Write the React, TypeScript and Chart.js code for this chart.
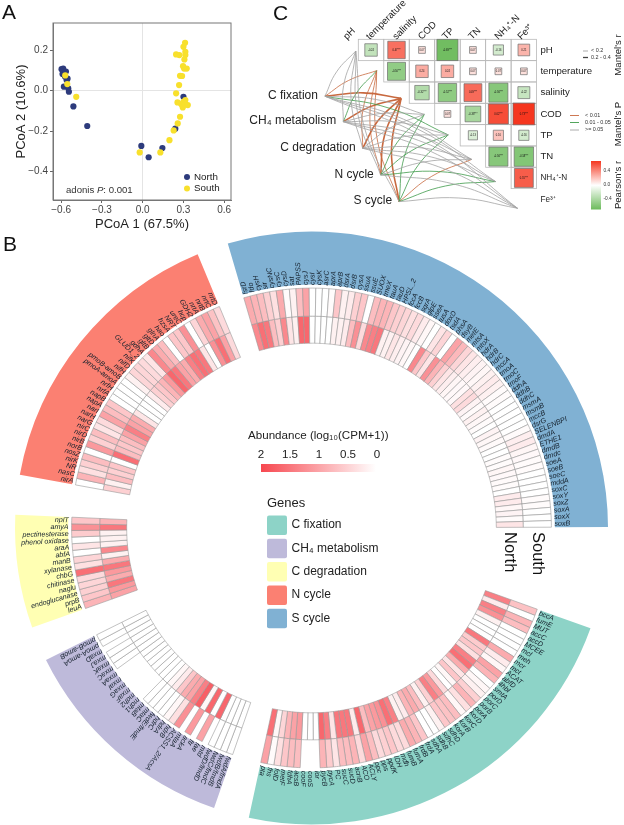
import React, { useEffect, useRef } from "react";
import { Chart, registerables } from "chart.js";

Chart.register(...registerables);
Chart.defaults.font.family = "'Liberation Sans', Arial, sans-serif";

// ---------- Panel A ----------
const northPoints = [[-0.597,0.107],[-0.585,0.11],[-0.59,0.083],[-0.572,0.07],[-0.565,0.095],[-0.56,0.053],[-0.553,0.06],[-0.58,0.02],[-0.548,0.012],[-0.543,-0.005],[-0.51,-0.078],[-0.408,-0.175],[-0.01,-0.274],[0.044,-0.33],[0.145,-0.284],[0.3,-0.03],[0.24,-0.188]];
const southPoints = [[-0.57,0.076],[-0.555,0.033],[-0.489,-0.03],[-0.022,-0.306],[0.13,-0.306],[0.197,-0.245],[0.228,-0.197],[0.258,-0.162],[0.275,-0.129],[0.312,0.238],[0.3,0.218],[0.314,0.193],[0.246,0.18],[0.27,0.177],[0.314,0.177],[0.307,0.155],[0.297,0.122],[0.305,0.11],[0.324,0.11],[0.275,0.074],[0.29,0.073],[0.268,0.028],[0.246,-0.013],[0.256,-0.058],[0.283,-0.066],[0.3,-0.055],[0.312,-0.066],[0.332,-0.071],[0.295,-0.083],[0.314,-0.046]];
const pcoaXTicks = [-0.6,-0.3,0,0.3,0.6];
const pcoaYTicks = [-0.4,-0.2,0,0.2];

// ---------- Panel B ----------
const sulfurGenes = ["fsrD","fdo","cysH","sir","cysNC","cysC","cysD","sat","PAPSS","cysJ","cysI","cysK","asrC","aprA","aprB","dsrA","dsrB","cysA","ssuA","ssuE","SUOX","tmeX","tauA","tauD","HPSL_2","fccA","fccB","sqrA","glpE","sseA","tusA","doxD","tsdA","phsA","dsyB","metE","mtsA","mtoX","hdrA","hdrB","hdrC","mccA","tmoA","tmoC","tmoF","ddhA","ddhB","ddhC","msmA","msmB","mccB","dsrG","SELENBPI","dmdA","ETHE1","dmdB","dmdc","soeA","soeB","soeC","mddA","soxC","soxY","soxZ","soxA","soxX","soxB"];
const sulfurSouth = [.8,.7,.6,.4,.25,.8,.02,.1,.6,.9,0,0,0,.02,.5,.1,.15,.4,.5,0,.6,.7,.7,.5,.4,.35,.25,.3,.15,.05,0,.2,.35,0,.9,.65,.35,.2,.12,.08,.05,.1,.15,.1,.02,.02,0,0,0,0,0,.02,.12,.15,.06,.04,.02,.02,0,0,0,0,.02,.02,0,0,0];
const sulfurNorth = [1.2,1.5,1.4,.6,.4,1.2,.2,.1,1.6,1.6,0,0,0,0,.1,.1,.15,.6,1.1,.3,1.2,1.3,1.4,.1,.1,.2,.12,.08,.05,0,1.2,.5,.2,1.1,.7,.4,.2,.12,.06,.04,.04,.25,.3,.08,.03,.1,.05,.02,0,.08,.05,.03,0,0,.02,.02,.06,.04,.03,.02,0,.15,.15,.05,.08,.02,.2];

const carbonFixGenes = ["bccA","fumE","MUT","accC","accD","MCEE","mcl","meh","mcr","mct","ACAT","abfD","4hbl","smtA","porD","porC","porB","porA","korD","korC","korB","korA","sdhD","sdhC","sdhB","sdhA","frdA","frdB","fumA","fumB","mdh","IDH","ppdK","pps","ppc","ACLY","ACO","acnB","sucD","sucC","PC","pycA","pycB","ior","cooS","cooF","acsB","fdhA","metF","folD","fhs","pta"];
const carbonFixSouth = [.55,0,.7,.6,0,0,0,0,.8,.15,.05,.9,.7,0,.05,.1,.4,.7,.25,.05,.6,.55,.5,.1,0,0,.5,.7,.8,.3,.3,.5,.4,.3,.6,.9,.3,.7,.6,.6,.2,.45,.7,null,null,null,.6,.6,.5,.25,.02,.9];
const carbonFixNorth = [1.3,.15,1.3,1.1,.1,0,0,0,1.4,.45,.5,.25,1.3,1.5,.8,.2,.5,.05,0,.3,1.0,1.3,.4,.1,.6,.8,.7,.15,.1,1.3,1.5,1.1,1.0,.9,.6,1.6,.15,1.4,1.4,1.4,.2,1.3,1.6,0,0,0,1.0,.9,.7,.35,.05,1.5];

const methaneGenes = ["fwdA/fmdA","fwdB/fmdB","fwdC/fmdC","fwdD/fmdD","mtd","fae","ftr","ackA","mtaA","ACSS1_2/AcsA","hdrB","hdrA","hdrC","fwdE/fmdE","mtaC","mtaB","mdh1","mdh2","mxaF","mxaG","mxaI","mxaA","mxaC","mxaK","mxaJ","mxaD","pmoA-amoA","pmoB-amoB"];
const methaneSouth = [0,0,0,0,null,.9,null,1.0,null,1.1,.25,.05,0,0,0,0,null,null,null,null,null,null,0,0,0,null,0,0];
const methaneNorth = [0,0,0,0,1.6,0,1.6,.05,1.7,1.3,.9,.8,.5,.15,.05,0,0,0,0,0,0,0,0,0,0,0,0,0];

const degradationGenes = ["leuA","prpB","endoglucanase","naglu","chitinase","chbG","xylanase","manB","abfA","araA","phenol oxidase","pectinesterase","amyA","nplT"];
const degradationSouth = [.7,.5,.4,.35,.3,1.5,.25,.35,0,.2,0,.45,1.1,.5];
const degradationNorth = [.9,1.0,1.4,.8,1.0,1.4,.8,.1,1.2,.1,.1,.1,1.4,.7];

const nitrogenGenes = ["nirA","nasC","NR","nirK","nosZ","norB","nirB","nirD","nirC","narG","narH","narI","napA","napB","nrfA","nrfH","pmoA-amoA","pmoB-amoB","nifH","nifD","nifK","GLUD1_2","gdhA","gltB","gltD","glnA","hao","hzsA","NRT","ureC","hcp","GDH2","nrtA","nrtB","nrtC","nrtD"];
const nitrogenSouth = [0,.7,.25,.4,.6,0,1.0,.4,.6,.2,.3,.9,.6,.5,0,0,0,0,.1,.35,.35,.3,.2,1.2,.8,.6,0,.5,.5,1.1,0,.35,.8,.9,.55,.3];
const nitrogenNorth = [.4,.1,.6,.4,.5,0,1.5,.6,.5,.6,.9,1.3,.9,.8,.2,0,0,0,.15,.4,.5,.7,1.0,1.6,1.4,.9,.8,1.3,1.5,1.4,.2,0,1.1,1.5,.9,.3];

// order clockwise from the start of the S cycle sector
const sectorNames = ["S cycle","C fixation","CH₄ metabolism","C degradation","N cycle"];
const sectorColors = ["#80b1d3","#8dd3c7","#bebada","#ffffb3","#fb8072"];
const sectorGenes = [sulfurGenes,carbonFixGenes,methaneGenes,degradationGenes,nitrogenGenes];
const sectorSouth = [sulfurSouth,carbonFixSouth,methaneSouth,degradationSouth,nitrogenSouth];
const sectorNorth = [sulfurNorth,carbonFixNorth,methaneNorth,degradationNorth,nitrogenNorth];
const sectorGaps = [12.6,4.4,4.3,4.9,3.9];
const sectorInward = [false,false,false,true,true];
const legendOrder = [1,2,3,4,0];
const abundanceTicks = ["2","1.5","1","0.5","0"];

// ---------- Panel C ----------
const envColumns = ["pH","temperature","salinity","COD","TP","TN","NH₄⁺-N","Fe³⁺"];
const pearsonRows = [
  [-.24,.47,.07,-.69,.07,-.16,.21],
  [-.5,.24,.24,.07,.07,.07],
  [-.32,-.52,.49,-.56,-.22],
  [.07,-.38,.62,.73],
  [-.13,.16,-.16],
  [-.56,-.58],
  [.55],
];
const targetX = [-.10,.72,1.68,2.59,3.53,4.45,5.39,6.25];
const targetY = [.55,1.47,2.77,3.52,4.48,5.63,6.67,7.92];
const sourceNames = ["C fixation","CH₄ metabolism","C degradation","N cycle","S cycle"];
const sourceX = [-1.31,-.59,.17,.88,1.6];
const sourceY = [2.67,3.86,5.11,6.36,7.61];
// 0: P < 0.01, 1: P 0.01-0.05, 2: P >= 0.05
const mantelP = [
  [2,0,0,2,1,2,2,2],
  [2,1,0,2,2,2,2,2],
  [2,0,0,2,2,2,2,2],
  [2,0,0,1,1,2,1,2],
  [2,0,0,1,1,0,1,2],
];
// 0: r < 0.2, 1: r 0.2-0.4
const mantelR = [
  [0,0,1,0,0,0,0,0],
  [0,0,1,0,0,0,0,0],
  [0,0,1,0,0,0,0,0],
  [0,0,1,0,0,0,0,0],
  [0,0,1,0,0,0,0,0],
];
const mantelColors = ["#c8693f","#3f9b4a","#a3a3a3"];
const mantelWidths = [0.8,1.6];
const pearsonTicks = [0.4,0,-0.4];

const FONT = "'Liberation Sans', Arial, sans-serif";

function mix(a: number[], t: number) {
  const c = a.map((v) => Math.round(255 + (v - 255) * t));
  return `rgb(${c[0]},${c[1]},${c[2]})`;
}
const heatColor = (v: number | null) => (v === null ? "rgba(0,0,0,0)" : mix([247, 71, 79], Math.pow(Math.min(1, v / 2), 0.85)));
const pearsonColor = (r: number) =>
  mix(r > 0 ? [245, 54, 31] : [108, 187, 92], Math.min(1, Math.pow(Math.abs(r) / 0.72, 0.8)));

function text(ctx: any, s: string, x: number, y: number, font: string, color = "#222", align = "left", rot = 0) {
  ctx.save();
  ctx.translate(x, y);
  if (rot) ctx.rotate(rot);
  ctx.font = font;
  ctx.fillStyle = color;
  ctx.textAlign = align;
  ctx.textBaseline = "middle";
  ctx.fillText(s, 0, 0);
  ctx.restore();
}

function makeScatter(canvas: HTMLCanvasElement) {
  const toXY = (p: number[]) => ({ x: p[0], y: p[1] });
  const fmt = (v: any) => (Number(v) === 0 ? "0.0" : Number(v).toFixed(1).replace("-", "\u2212"));
  return new Chart(canvas, {
    type: "scatter",
    data: {
      datasets: [
        { label: "South", data: southPoints.map(toXY), backgroundColor: "#f8e02c", borderWidth: 0, pointRadius: 3.1, order: 1 },
        { label: "North", data: northPoints.map(toXY), backgroundColor: "#2d3b7c", borderWidth: 0, pointRadius: 3.1, order: 2 },
      ],
    },
    options: {
      responsive: false,
      animation: false,
      layout: { autoPadding: false, padding: { left: 0, right: 9, top: 23, bottom: 0 } },
      plugins: { legend: { display: false }, tooltip: { enabled: false } },
      scales: {
        x: {
          type: "linear", min: -0.66, max: 0.65,
          afterBuildTicks: (s: any) => { s.ticks = pcoaXTicks.map((value) => ({ value })); },
          afterFit: (s: any) => { s.height = 32; },
          grid: { color: (c: any) => (c.tick && c.tick.value === 0 ? "#e4e4e4" : "rgba(0,0,0,0)"), tickColor: "#666", tickLength: 3, drawTicks: true },
          border: { color: "#777" },
          ticks: { callback: fmt, font: { size: 10 }, color: "#444", maxRotation: 0, padding: 1 },
          title: { display: true, text: "PCoA 1 (67.5%)", font: { size: 13 }, color: "#222", padding: { top: 1, bottom: 0 } },
        },
        y: {
          type: "linear", min: -0.542, max: 0.336,
          afterBuildTicks: (s: any) => { s.ticks = pcoaYTicks.map((value) => ({ value })); },
          afterFit: (s: any) => { s.width = 53; },
          grid: { color: (c: any) => (c.tick && c.tick.value === 0 ? "#e4e4e4" : "rgba(0,0,0,0)"), tickColor: "#666", tickLength: 3 },
          border: { color: "#777" },
          ticks: { callback: fmt, font: { size: 10 }, color: "#444", padding: 2 },
          title: { display: true, text: "PCoA 2 (10.6%)", font: { size: 13 }, color: "#222", padding: { top: 14, bottom: 0 } },
        },
      },
    } as any,
    plugins: [{
      id: "panelA",
      afterDraw(chart: any) {
        const { ctx, chartArea: a } = chart;
        ctx.save();
        ctx.strokeStyle = "#777";
        ctx.lineWidth = 1;
        ctx.strokeRect(a.left, a.top, a.right - a.left, a.bottom - a.top);
        ctx.restore();
        text(ctx, "A", 2, 13, `21px ${FONT}`, "#111");
        ctx.font = `9.6px ${FONT}`;
        const w0 = ctx.measureText("adonis ").width;
        text(ctx, "adonis ", 66, 190, `9.6px ${FONT}`, "#333");
        text(ctx, "P", 66 + w0, 190, `italic 9.6px ${FONT}`, "#333");
        text(ctx, ": 0.001", 66 + w0 + ctx.measureText("P").width, 190, `9.6px ${FONT}`, "#333");
        [["North", "#2d3b7c", 177], ["South", "#f8e02c", 188.5]].forEach(([n, c, y]: any) => {
          ctx.fillStyle = c;
          ctx.beginPath();
          ctx.arc(187, y, 3, 0, Math.PI * 2);
          ctx.fill();
          text(ctx, n, 194, y, `9.8px ${FONT}`, "#222");
        });
      },
    }],
  });
}

function makeCircle(canvas: HTMLCanvasElement) {
  const labels: string[] = [];
  const cellWeights: number[] = [];
  const southColors: string[] = [];
  const northColors: string[] = [];
  const southBorders: number[] = [];
  const northBorders: number[] = [];
  const inward: boolean[] = [];
  const bandWeights: number[] = [];
  const bandColors: string[] = [];
  sectorGenes.forEach((genes, s) => {
    genes.forEach((g, i) => {
      labels.push(g);
      cellWeights.push(1);
      const sv = sectorSouth[s][i];
      const nv = sectorNorth[s][i];
      southColors.push(heatColor(sv));
      northColors.push(heatColor(nv));
      southBorders.push(sv === null ? 0 : 0.6);
      northBorders.push(nv === null ? 0 : 0.6);
      inward.push(sectorInward[s]);
    });
    labels.push("");
    cellWeights.push(sectorGaps[s]);
    southColors.push("rgba(0,0,0,0)");
    northColors.push("rgba(0,0,0,0)");
    southBorders.push(0);
    northBorders.push(0);
    inward.push(false);
    bandWeights.push(genes.length, sectorGaps[s]);
    bandColors.push(sectorColors[s], "rgba(0,0,0,0)");
  });
  return new Chart(canvas, {
    type: "doughnut",
    data: {
      labels,
      datasets: [
        { label: "band", data: bandWeights, backgroundColor: bandColors, borderWidth: 0, weight: 53 },
        { label: "spacer", data: [1], backgroundColor: "rgba(0,0,0,0)", borderWidth: 0, weight: 3.5 },
        { label: "South", data: cellWeights, backgroundColor: southColors, borderColor: "#999999", borderWidth: southBorders, weight: 28 },
        { label: "North", data: cellWeights, backgroundColor: northColors, borderColor: "#999999", borderWidth: northBorders, weight: 27 },
      ],
    },
    options: {
      responsive: false,
      animation: false,
      rotation: -16.4,
      cutout: "62.33%",
      layout: { autoPadding: false, padding: { left: 15, right: 16, top: 231.5, bottom: 0.5 } },
      plugins: { legend: { display: false }, tooltip: { enabled: false } },
    } as any,
    plugins: [{
      id: "panelB",
      afterDraw(chart: any) {
        const { ctx } = chart;
        const south = chart.getDatasetMeta(2).data;
        const north = chart.getDatasetMeta(3).data;
        const cx = south[0].x;
        const cy = south[0].y;
        const rOut = chart.getDatasetMeta(0).data[0].innerRadius;
        south.forEach((arc: any, i: number) => {
          const name = labels[i];
          if (!name) return;
          const mid = (arc.startAngle + arc.endAngle) / 2;
          ctx.save();
          ctx.translate(cx, cy);
          ctx.rotate(mid);
          ctx.translate(rOut - 0.5, 0);
          ctx.font = `italic 7.1px ${FONT}`;
          ctx.fillStyle = "#14202c";
          ctx.textBaseline = "middle";
          if (inward[i]) {
            ctx.rotate(Math.PI);
            ctx.textAlign = "right";
          } else {
            ctx.textAlign = "left";
          }
          ctx.fillText(name, 0, 0);
          ctx.restore();
        });
        text(ctx, "B", 3, 245, `21px ${FONT}`, "#111");
        const nR = (north[0].innerRadius + north[0].outerRadius) / 2;
        const sR = (south[0].innerRadius + south[0].outerRadius) / 2;
        text(ctx, "North", cx + nR, 532, `16.5px ${FONT}`, "#111", "left", Math.PI / 2);
        text(ctx, "South", cx + sR, 532, `16.5px ${FONT}`, "#111", "left", Math.PI / 2);

        text(ctx, "Abundance (log₁₀(CPM+1))", 248, 436, `11.6px ${FONT}`, "#222");
        abundanceTicks.forEach((t, i) => text(ctx, t, 261 + i * 29, 455, `11.6px ${FONT}`, "#222", "center"));
        const g = ctx.createLinearGradient(261, 0, 376, 0);
        g.addColorStop(0, heatColor(2));
        g.addColorStop(1, heatColor(0));
        ctx.fillStyle = g;
        ctx.fillRect(261, 464, 115, 8);

        text(ctx, "Genes", 267, 503, `13px ${FONT}`, "#222");
        legendOrder.forEach((s, i) => {
          const y = 515.5 + i * 23.3;
          ctx.fillStyle = sectorColors[s];
          ctx.beginPath();
          ctx.roundRect(267, y, 20, 19.5, 2);
          ctx.fill();
          text(ctx, sectorNames[s], 291.5, y + 9.5, `12px ${FONT}`, "#222");
        });
      },
    }],
  });
}

function makeCorrelation(canvas: HTMLCanvasElement) {
  const CELL = 25.47;
  const matrixPoints: any[] = [];
  pearsonRows.forEach((row, r) => row.forEach((v, k) => matrixPoints.push({ x: r + k + 0.5, y: r + 0.5, v })));

  const linkSets: any[] = [];
  [2, 1, 0].forEach((cls) => {
    sourceX.forEach((sx, s) => {
      targetX.forEach((tx, t) => {
        if (mantelP[s][t] !== cls) return;
        const sy = sourceY[s];
        const ty = targetY[t];
        const dx = tx - sx;
        const dy = ty - sy;
        linkSets.push({
          type: "scatter",
          showLine: true,
          tension: 0.45,
          pointRadius: 0,
          borderColor: mantelColors[cls],
          borderWidth: mantelWidths[mantelR[s][t]],
          data: [
            { x: sx, y: sy },
            { x: sx + dx / 2 + dy * 0.07, y: sy + dy / 2 - dx * 0.07 },
            { x: tx, y: ty },
          ],
          order: 5,
        });
      });
    });
  });

  return new Chart(canvas, {
    type: "scatter",
    data: {
      datasets: [
        {
          label: "Pearson",
          data: matrixPoints,
          pointStyle: "rect",
          pointRadius: (c: any) => (CELL * Math.sqrt(Math.abs(c.raw.v))) / Math.SQRT2,
          backgroundColor: (c: any) => pearsonColor(c.raw.v),
          borderColor: "#6e6e6e",
          borderWidth: 0.7,
          order: 1,
        },
        ...linkSets,
      ],
    },
    options: {
      responsive: false,
      animation: false,
      layout: { autoPadding: false, padding: 0 },
      plugins: { legend: { display: false }, tooltip: { enabled: false } },
      scales: {
        x: { type: "linear", display: false, min: -4.645, max: 10.432 },
        y: { type: "linear", display: false, reverse: true, min: -1.843, max: 9.034 },
      },
    } as any,
    plugins: [{
      id: "panelC",
      beforeDatasetsDraw(chart: any) {
        const { ctx, scales } = chart;
        ctx.save();
        ctx.strokeStyle = "#b9b9b9";
        ctx.lineWidth = 0.8;
        pearsonRows.forEach((row, r) => row.forEach((_, k) => {
          const c = r + k;
          const x0 = scales.x.getPixelForValue(c);
          const x1 = scales.x.getPixelForValue(c + 1);
          const y0 = scales.y.getPixelForValue(r);
          const y1 = scales.y.getPixelForValue(r + 1);
          ctx.strokeRect(x0, y0, x1 - x0, y1 - y0);
        }));
        ctx.restore();
      },
      afterDraw(chart: any) {
        const { ctx, scales } = chart;
        const px = (v: number) => scales.x.getPixelForValue(v);
        const py = (v: number) => scales.y.getPixelForValue(v);
        matrixPoints.forEach((p) => {
          const stars = Math.abs(p.v) >= 0.3 ? "***" : "";
          text(ctx, p.v.toFixed(2) + stars, px(p.x), py(p.y), `2.6px ${FONT}`, "#111", "center");
        });
        text(ctx, "C", 33, 14, `21px ${FONT}`, "#111");
        // column titles
        const colX = [-0.52, 0.38, 1.42, 2.42, 3.36, 4.39, 5.42, 6.32];
        envColumns.forEach((n, i) => {
          text(ctx, n, px(colX[i]), py(-0.05), `9.6px ${FONT}`, "#222", "left", -Math.PI / 4);
        });
        // row titles
        envColumns.forEach((n, i) => {
          const small = i >= 6;
          text(ctx, n, px(7.15), py(i + 0.5), `${small ? 8.2 : 9.6}px ${FONT}`, "#222");
        });
        // source titles
        sourceNames.forEach((n, i) => {
          text(ctx, n, px(sourceX[i]) - 7, py(sourceY[i]) - 0.5, `12px ${FONT}`, "#222", "right");
        });
        // Mantel's r legend
        const L = (x0: number, x1: number, y: number, c: string, w: number) => {
          ctx.save();
          ctx.strokeStyle = c;
          ctx.lineWidth = w;
          ctx.beginPath();
          ctx.moveTo(x0, y);
          ctx.lineTo(x1, y);
          ctx.stroke();
          ctx.restore();
        };
        L(343, 348, 51, "#888", 0.7);
        L(343, 348, 57.5, "#444", 1.3);
        text(ctx, "< 0.2", 351, 51, `5.4px ${FONT}`, "#333");
        text(ctx, "0.2 - 0.4", 351, 57.5, `5.4px ${FONT}`, "#333");
        text(ctx, "Mantel's r", 378.5, 55, `9.6px ${FONT}`, "#222", "center", -Math.PI / 2);
        // Mantel's P legend
        L(330, 339, 115.5, mantelColors[0], 0.9);
        L(330, 339, 122.5, mantelColors[1], 0.9);
        L(330, 339, 130, mantelColors[2], 0.9);
        text(ctx, "< 0.01", 345, 115.5, `5.4px ${FONT}`, "#333");
        text(ctx, "0.01 - 0.05", 345, 122.5, `5.4px ${FONT}`, "#333");
        text(ctx, ">= 0.05", 345, 130, `5.4px ${FONT}`, "#333");
        text(ctx, "Mantel's P", 378.5, 124, `9.6px ${FONT}`, "#222", "center", -Math.PI / 2);
        // Pearson colour bar
        const g = ctx.createLinearGradient(0, 161, 0, 209.5);
        g.addColorStop(0, pearsonColor(0.72));
        g.addColorStop(0.5, "#ffffff");
        g.addColorStop(1, pearsonColor(-0.72));
        ctx.fillStyle = g;
        ctx.fillRect(351, 161, 10, 48.5);
        pearsonTicks.forEach((t, i) => {
          text(ctx, t.toFixed(1), 363.5, 170.5 + i * 13.9, `4.8px ${FONT}`, "#333");
        });
        text(ctx, "Pearson's r", 378.5, 185, `9.6px ${FONT}`, "#222", "center", -Math.PI / 2);
      },
    }],
  });
}

export default function App() {
  const aRef = useRef<HTMLCanvasElement>(null);
  const bRef = useRef<HTMLCanvasElement>(null);
  const cRef = useRef<HTMLCanvasElement>(null);
  useEffect(() => {
    const charts = [makeCircle(bRef.current!), makeScatter(aRef.current!), makeCorrelation(cRef.current!)];
    return () => charts.forEach((c) => c.destroy());
  }, []);
  const abs = (left: number, top: number): React.CSSProperties => ({ position: "absolute", left, top, display: "block" });
  return (
    <div style={{ position: "absolute", left: 0, top: 0, width: 624, height: 825, background: "#fff", overflow: "hidden" }}>
      <canvas ref={bRef} width={624} height={825} style={abs(0, 0)} />
      <canvas ref={aRef} width={240} height={232} style={abs(0, 0)} />
      <canvas ref={cRef} width={384} height={232} style={abs(240, 0)} />
    </div>
  );
}
